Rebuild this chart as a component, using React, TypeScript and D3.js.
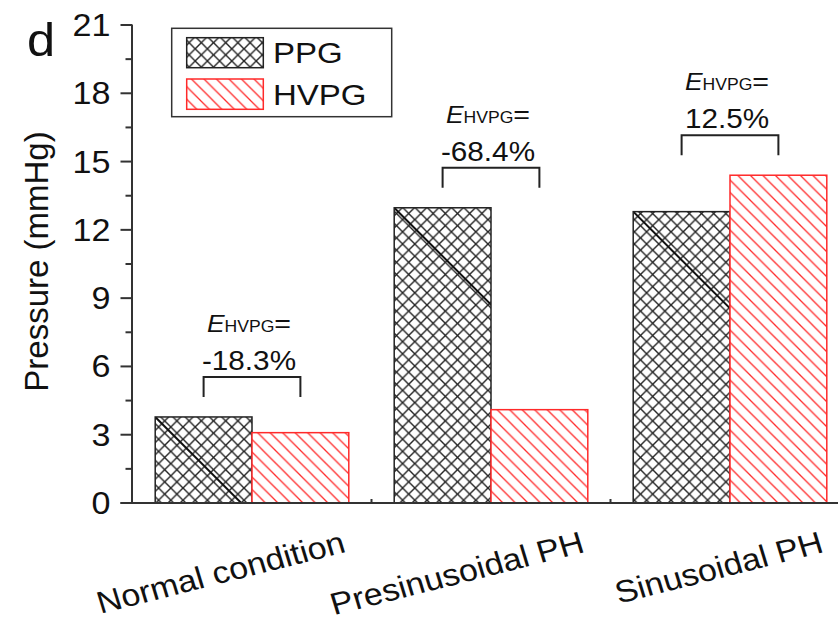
import React from "react";
import * as d3 from "d3";

const categories = ["Normal condition", "Presinusoidal PH", "Sinusoidal PH"];
const seriesNames = ["PPG", "HVPG"];
const ppgValues = [3.78, 12.97, 12.8];
const hvpgValues = [3.09, 4.1, 14.4];
const eLabels = ["-18.3%", "-68.4%", "12.5%"];
const yMajorTicks = [0, 3, 6, 9, 12, 15, 18, 21];
const yMinorTicks = [1.5, 4.5, 7.5, 10.5, 13.5, 16.5, 19.5];

const W = 838;
const H = 623;
const FONT = "'Liberation Sans', Arial, Helvetica, sans-serif";
const SX = 1.1; // horizontal stretch of the reference text

export default function App() {
  const x0 = 132.5;
  const y0 = 503;
  const x = d3
    .scaleBand<string>()
    .domain(categories)
    .range([x0, 849.5])
    .paddingInner(0.19)
    .paddingOuter(0.095);
  const xs = d3
    .scaleBand<string>()
    .domain(seriesNames)
    .range([0, x.bandwidth()]);
  const y = d3.scaleLinear().domain([0, 21]).range([y0, 25]);

  const axisColor = "#333";
  const txt = "#111";

  const boundaries = categories.slice(1).map((c) => (x(c) as number) - (x.step() - x.bandwidth()) / 2);

  return (
    <svg
      width={W}
      height={H}
      style={{ position: "absolute", left: 0, top: 0, background: "#fff" }}
      fontFamily={FONT}
    >
      <defs>
        <pattern id="cross" patternUnits="userSpaceOnUse" width={12.2} height={12.2}>
          <rect width={12.2} height={12.2} fill="#fff" />
          <path d="M0,0 L12.2,12.2 M-3,9.2 L3,15.2 M9.2,-3 L15.2,3" stroke="#222" strokeWidth={1.4} />
          <path d="M0,12.2 L12.2,0 M-3,3 L3,-3 M9.2,15.2 L15.2,9.2" stroke="#222" strokeWidth={1.4} />
        </pattern>
        <pattern id="diag" patternUnits="userSpaceOnUse" width={12.5} height={12.5}>
          <rect width={12.5} height={12.5} fill="#fff" />
          <path d="M0,0 L12.5,12.5 M-3,9.5 L3,15.5 M9.5,-3 L15.5,3" stroke="#ff2a2a" strokeWidth={1.3} />
        </pattern>
        {categories.map((c, i) => {
          const xp = (x(c) as number) + (xs("PPG") as number);
          return (
            <clipPath id={"clipP" + i} key={"cp" + i}>
              <rect x={xp} y={y(ppgValues[i])} width={xs.bandwidth()} height={y0 - y(ppgValues[i])} />
            </clipPath>
          );
        })}
      </defs>

      {/* panel letter */}
      <text transform={`translate(27,56) scale(${SX},1)`} fontSize={46} fill={txt}>
        d
      </text>

      {/* bars */}
      {categories.map((c, i) => {
        const gx = x(c) as number;
        const xp = gx + (xs("PPG") as number);
        const xh = gx + (xs("HVPG") as number);
        const bw = xs.bandwidth();
        const tp = y(ppgValues[i]);
        const hp = y0 - tp;
        return (
          <g key={c}>
            <rect x={xp} y={tp} width={bw} height={hp} fill="url(#cross)" />
            <line
              x1={xp}
              y1={tp}
              x2={xp + hp}
              y2={tp + hp}
              stroke="#111"
              strokeWidth={2}
              clipPath={`url(#clipP${i})`}
            />
            <rect x={xp} y={tp} width={bw} height={hp} fill="none" stroke="#222" strokeWidth={1.5} />
            <rect
              x={xh}
              y={y(hvpgValues[i])}
              width={bw}
              height={y0 - y(hvpgValues[i])}
              fill="url(#diag)"
              stroke="#ff2a2a"
              strokeWidth={1.5}
            />
          </g>
        );
      })}

      {/* annotations */}
      {categories.map((c, i) => {
        const gx = x(c) as number;
        const bw = xs.bandwidth();
        const cx1 = gx + (xs("PPG") as number) + bw / 2;
        const cx2 = gx + (xs("HVPG") as number) + bw / 2;
        const top = Math.min(y(ppgValues[i]), y(hvpgValues[i]));
        const legBottom = top - 20;
        const lineY = legBottom - 20;
        const cx = (cx1 + cx2) / 2 - 3;
        const pctBase = lineY - 7;
        const eBase = pctBase - 38;
        return (
          <g key={"a" + c}>
            <path
              d={`M${cx1},${legBottom} L${cx1},${lineY} L${cx2},${lineY} L${cx2},${legBottom}`}
              fill="none"
              stroke="#222"
              strokeWidth={2}
            />
            <text
              transform={`translate(${cx},${eBase}) scale(${SX},1)`}
              textAnchor="middle"
              fill={txt}
            >
              <tspan fontSize={24} fontStyle="italic">E</tspan>
              <tspan fontSize={16}>HVPG</tspan>
              <tspan fontSize={26}>=</tspan>
            </text>
            <text
              transform={`translate(${cx},${pctBase}) scale(${SX},1)`}
              textAnchor="middle"
              fontSize={27}
              fill={txt}
            >
              {eLabels[i]}
            </text>
          </g>
        );
      })}

      {/* y axis */}
      <line x1={x0 - 0.5} x2={x0 - 0.5} y1={y(21)} y2={y0} stroke={axisColor} strokeWidth={2} />
      {yMajorTicks.map((t) => (
        <g key={"mj" + t}>
          <line x1={x0 - 12} x2={x0} y1={y(t)} y2={y(t)} stroke={axisColor} strokeWidth={2} />
          <text
            transform={`translate(${x0 - 22},${y(t) + 11}) scale(${SX},1)`}
            textAnchor="end"
            fontSize={31}
            fill={txt}
          >
            {t}
          </text>
        </g>
      ))}
      {yMinorTicks.map((t) => (
        <line key={"mn" + t} x1={x0 - 7} x2={x0} y1={y(t)} y2={y(t)} stroke={axisColor} strokeWidth={2} />
      ))}
      <text
        transform={`translate(48,261.5) rotate(-90)`}
        textAnchor="middle"
        fontSize={33}
        fill={txt}
      >
        Pressure (mmHg)
      </text>

      {/* x axis */}
      <line x1={x0 - 12} x2={W} y1={y0} y2={y0} stroke={axisColor} strokeWidth={2} />
      {boundaries.map((b, i) => (
        <line key={"xb" + i} x1={b} x2={b} y1={y0} y2={y0 - 4} stroke={axisColor} strokeWidth={2} />
      ))}
      {categories.map((c) => {
        const cx = (x(c) as number) + x.bandwidth() / 2;
        return (
          <text
            key={"xl" + c}
            transform={`translate(${cx + 95},551.7) scale(${SX},1) rotate(-15.5)`}
            textAnchor="end"
            fontSize={31}
            fill={txt}
          >
            {c}
          </text>
        );
      })}

      {/* legend */}
      <rect x={171.7} y={28.3} width={220} height={88.4} fill="#fff" stroke="#333" strokeWidth={1.5} />
      <rect x={186.7} y={37.7} width={76.6} height={30} fill="url(#cross)" stroke="#222" strokeWidth={1.5} />
      <rect x={186.7} y={79} width={76.6} height={30.3} fill="url(#diag)" stroke="#ff2a2a" strokeWidth={1.5} />
      <text transform={`translate(273,63.3) scale(${SX},1)`} fontSize={30} fill={txt}>
        {seriesNames[0]}
      </text>
      <text transform={`translate(273,105) scale(${SX},1)`} fontSize={30} fill={txt}>
        {seriesNames[1]}
      </text>
    </svg>
  );
}
